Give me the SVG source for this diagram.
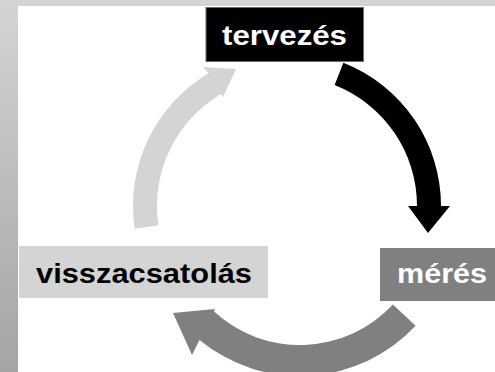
<svg xmlns="http://www.w3.org/2000/svg" width="495" height="372" viewBox="0 0 495 372">
  <defs>
    <linearGradient id="sideGrad" x1="0" y1="0" x2="0" y2="1">
      <stop offset="0" stop-color="#d4d4d4"/>
      <stop offset="1" stop-color="#a4a4a4"/>
    </linearGradient>
  </defs>
  <style>
    .lbl { font-family: "Liberation Sans", Arial, sans-serif; font-weight: bold; font-size: 27px; }
    .light { fill: #d4d4d4; }
    .mid { fill: #808080; }
    .dark { fill: #000000; }
  </style>
  <rect x="0" y="0" width="495" height="372" fill="#ffffff"/>
  <rect x="0" y="0" width="495" height="6" fill="#d4d4d4"/>
  <rect x="0" y="0" width="18" height="372" fill="url(#sideGrad)"/>

  <g id="connectors">
    <path class="dark" d="M 343.4 62.7 A 154 154 0 0 1 441 206 L 450 206 L 428 233 L 408 206 L 417 206 A 130 130 0 0 0 334.6 85 Z"/>
    <path class="mid" d="M 415.6 325.8 A 158 158 0 0 1 199.5 339.9 L 192 355 L 173 313 L 215 309 L 213.8 311.3 A 127 127 0 0 0 392.9 304.6 Z"/>
    <path class="light" d="M 134.7 228.8 A 154 154 0 0 1 208.8 73.3 L 203 67 L 236 69 L 223 97 L 221 94 A 130 130 0 0 0 158.4 225.2 Z"/>
  </g>

  <g id="tervezes">
    <rect x="206" y="7.5" width="157.5" height="54" fill="#000000" stroke="#6a6a6a" stroke-width="1"/>
    <text class="lbl" x="222" y="45" fill="#ffffff" textLength="125" lengthAdjust="spacingAndGlyphs">tervezés</text>
  </g>
  <g id="meres">
    <rect x="380" y="248" width="116" height="53" fill="#808080"/>
    <text class="lbl" x="397" y="282.5" fill="#ffffff" textLength="90" lengthAdjust="spacingAndGlyphs">mérés</text>
  </g>
  <g id="visszacsatolas">
    <rect x="19" y="246" width="249" height="52" fill="#d4d4d4"/>
    <text class="lbl" x="36" y="282.5" fill="#000000" textLength="216" lengthAdjust="spacingAndGlyphs">visszacsatolás</text>
  </g>
</svg>
